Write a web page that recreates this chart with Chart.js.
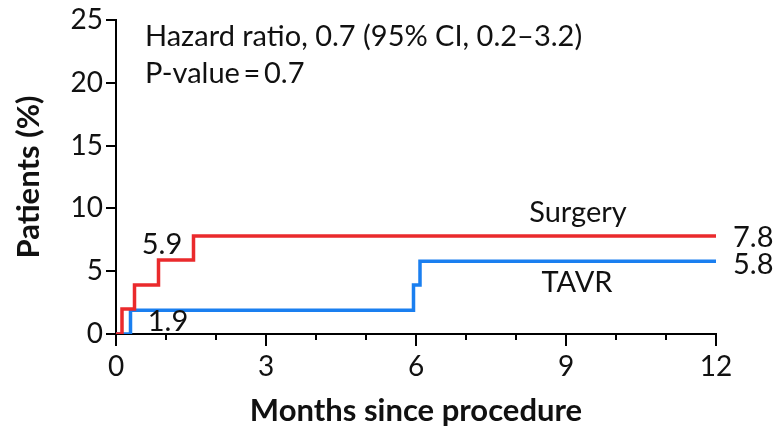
<!DOCTYPE html>
<html>
<head>
<meta charset="utf-8">
<script src="https://cdn.jsdelivr.net/npm/chart.js@4"></script>
<style>
  html, body { margin: 0; padding: 0; background: #fff; }
  #wrap { width: 774px; height: 434px; }
</style>
</head>
<body>
<div id="wrap"><canvas id="km" width="774" height="434"></canvas></div>
<script>
// Kaplan-Meier style steps: month of event, cumulative %
const surgeryMonths = [0, 0.12, 0.37, 0.85, 1.55, 12]
const surgeryPct = [0, 2.0, 3.9, 5.9, 7.8, 7.8]
const tavrMonths = [0, 0.29, 5.95, 6.08, 12]
const tavrPct = [0, 1.9, 3.9, 5.8, 5.8]

const xTicks = [0, 3, 6, 9, 12]
const yTicks = [0, 5, 10, 15, 20, 25]
const minorMonths = [1, 2, 4, 5, 7, 8, 10, 11]

const FONT = "Lato"
const RED = "#ea2a2c"
const BLUE = "#1a7ff0"

const toPoints = (xs, ys) => xs.map((x, i) => ({ x, y: ys[i] }))

// text placed in data coordinates: [text, month, pct, align]
const notes = [
  ["Hazard ratio, 0.7 (95% CI, 0.2\u20133.2)", 0.58, 22.9, "left"],
  ["P-value\u2009=\u20090.7", 0.58, 20.0, "left"],
  ["Surgery", 9.24, 9.7, "center"],
  ["TAVR", 9.22, 4.06, "center"],
  ["7.8", 12.34, 7.7, "left"],
  ["5.8", 12.34, 5.5, "left"],
  ["5.9", 0.92, 7.1, "center"],
  ["1.9", 1.04, 0.95, "center"],
]

const notesPlugin = {
  id: "notes",
  afterDatasetsDraw(chart) {
    const { ctx, scales: { x, y } } = chart
    ctx.save()
    ctx.fillStyle = "#111"
    ctx.font = `29px ${FONT}`
    notes.forEach(([text, mx, my, align], i) => {
      ctx.textAlign = align
      // first two lines are anchored by their baseline
      ctx.textBaseline = i < 2 ? "alphabetic" : "middle"
      ctx.fillText(text, x.getPixelForValue(mx), y.getPixelForValue(my))
    })
    ctx.restore()
  }
}

// short unlabeled ticks for each month
const minorTicks = {
  id: "minorTicks",
  afterDraw(chart) {
    const { ctx, scales: { x, y } } = chart
    const y0 = y.getPixelForValue(0)
    ctx.save()
    ctx.strokeStyle = "#000"
    ctx.lineWidth = 2
    ctx.beginPath()
    minorMonths.forEach(m => {
      const px = Math.round(x.getPixelForValue(m))
      ctx.moveTo(px, y0)
      ctx.lineTo(px, y0 + 6)
    })
    ctx.stroke()
    ctx.restore()
  }
}

new Chart(document.getElementById("km"), {
  type: "line",
  data: {
    datasets: [
      {
        label: "Surgery",
        data: toPoints(surgeryMonths, surgeryPct),
        borderColor: RED,
        borderWidth: 3.5,
        stepped: true,
        pointRadius: 0,
        fill: false,
      },
      {
        label: "TAVR",
        data: toPoints(tavrMonths, tavrPct),
        borderColor: BLUE,
        borderWidth: 3.5,
        stepped: true,
        pointRadius: 0,
        fill: false,
      },
    ]
  },
  options: {
    responsive: false,
    devicePixelRatio: 1,
    animation: false,
    layout: { padding: { top: 20, right: 58, left: 0, bottom: 0 } },
    plugins: {
      legend: { display: false },
      tooltip: { enabled: false },
    },
    scales: {
      x: {
        type: "linear",
        min: 0,
        max: 12,
        afterBuildTicks: (s) => { s.ticks = xTicks.map(v => ({ value: v })) },
        afterFit: (s) => { s.height = 100 },
        border: { color: "#000", width: 2 },
        grid: { drawOnChartArea: false, drawTicks: true, tickLength: 12, color: "#000", lineWidth: 2 },
        ticks: { color: "#111", font: { family: FONT, size: 28 }, padding: 4, maxRotation: 0 },
        title: {
          display: true,
          text: "Months since procedure",
          color: "#111",
          font: { family: FONT, size: 31, weight: "bold" },
          padding: { top: 0, bottom: 4 },
        },
      },
      y: {
        min: 0,
        max: 25,
        afterBuildTicks: (s) => { s.ticks = yTicks.map(v => ({ value: v })) },
        afterFit: (s) => { s.width = 116 },
        border: { color: "#000", width: 2 },
        grid: { drawOnChartArea: false, drawTicks: true, tickLength: 10, color: "#000", lineWidth: 2 },
        ticks: { color: "#111", font: { family: FONT, size: 28 }, padding: 3 },
        title: {
          display: true,
          text: "Patients (%)",
          color: "#111",
          font: { family: FONT, size: 31, weight: "bold" },
          padding: { top: 10, bottom: 0 },
        },
      },
    }
  },
  plugins: [notesPlugin, minorTicks]
})
</script>
</body>
</html>
